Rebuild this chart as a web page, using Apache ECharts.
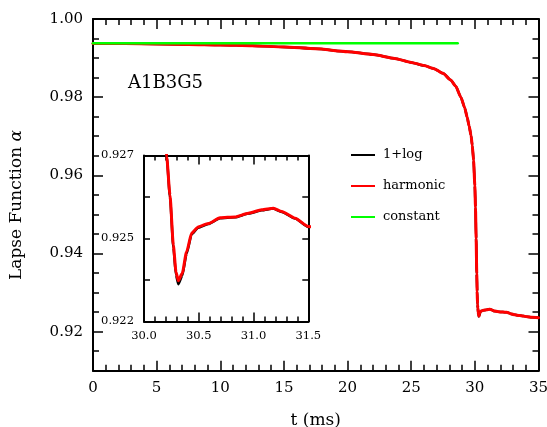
<!DOCTYPE html>
<html>
<head>
<meta charset="utf-8">
<script src="https://cdn.jsdelivr.net/npm/echarts@6/dist/echarts.min.js"></script>
<style>
  html, body { margin: 0; padding: 0; background: #fff; }
  #chart { width: 547px; height: 427px; }
</style>
</head>
<body>
<div id="chart"></div>
<script>
// Time samples (ms)
const tValues = [
  0, 2.5, 5, 7.5, 10, 12.5, 15, 17.5, 20, 22, 23.7, 25, 26, 26.8, 27.5, 28.1,
  28.5, 28.9, 29.2, 29.4, 29.55, 29.7, 29.8, 29.9, 30.0, 30.05, 30.1, 30.15,
  30.18, 30.207, 30.237, 30.268, 30.292, 30.313, 30.349, 30.389, 30.435,
  30.495, 30.587, 30.694, 30.831, 30.953, 31.075, 31.181, 31.258, 31.379,
  31.5, 31.84, 32.2, 32.5, 32.8, 33.15, 33.5, 33.8, 34.1, 34.46, 35
];
// Lapse function, harmonic slicing
const alphaHarmonic = [
  0.99375, 0.9937, 0.99362, 0.9935, 0.99337, 0.99315, 0.99284, 0.9924,
  0.99165, 0.9909, 0.9899, 0.9889, 0.9881, 0.9873, 0.9861, 0.9844,
  0.9828, 0.9800, 0.9773, 0.9748, 0.9726, 0.9702, 0.9676, 0.9638, 0.9573,
  0.9518, 0.9438, 0.9348, 0.9303, 0.92697, 0.92605, 0.92484, 0.9242,
  0.92398, 0.92416, 0.92468, 0.92513, 0.92528, 0.92536, 0.92550, 0.92552,
  0.92561, 0.92569, 0.92573, 0.92565, 0.92549, 0.92529, 0.9251, 0.9250,
  0.92495, 0.9246, 0.9243, 0.9241, 0.9240, 0.9238, 0.92367, 0.92357
];
// Lapse function, 1+log slicing
const alphaLog = [
  0.99375, 0.9937, 0.99362, 0.9935, 0.99337, 0.99315, 0.99284, 0.9924,
  0.99165, 0.9909, 0.9899, 0.9889, 0.9881, 0.9873, 0.9861, 0.9844,
  0.9828, 0.9800, 0.9773, 0.9748, 0.9726, 0.9702, 0.9676, 0.9638, 0.9573,
  0.9518, 0.9438, 0.9348, 0.9303, 0.92697, 0.92600, 0.92478, 0.92412,
  0.92390, 0.92410, 0.92463, 0.92510, 0.92526, 0.92535, 0.92549, 0.92551,
  0.92560, 0.92568, 0.92572, 0.92564, 0.92548, 0.92528, 0.9251, 0.9250,
  0.92495, 0.9246, 0.9243, 0.9241, 0.9240, 0.9238, 0.92367, 0.92357
];
// Lapse function, constant slicing
const tConstant = [0, 28.65];
const alphaConstant = [0.9938, 0.9938];

// Axis ticks and labels
const yMajorTicks = [0.92, 0.94, 0.96, 0.98, 1.00];
const insetYTickValues = [0.923, 0.925, 0.927];
const insetYTickLabels = ['0.922', '0.925', '0.927'];

const FONT = 'DejaVu Serif';
const pairs = (xs, ys) => xs.map((x, i) => [x, ys[i]]);

const chart = echarts.init(document.getElementById('chart'), null, { renderer: 'canvas' });

const axisLine = { show: true, lineStyle: { color: '#000', width: 2 } };
const noSplit = { show: false };

function mainX(position, showLabel) {
  return {
    type: 'value', gridIndex: 0, position: position,
    min: 0, max: 35, interval: 5,
    axisLine: axisLine,
    axisTick: { show: true, inside: true, length: 10, lineStyle: { color: '#000', width: 1.5 } },
    minorTick: { show: true, splitNumber: 5, length: 6, lineStyle: { color: '#000', width: 1.5 } },
    axisLabel: { show: showLabel, margin: 10, color: '#000', fontFamily: FONT, fontSize: 15 },
    splitLine: noSplit
  };
}
function mainY(position, major, showLabel) {
  const ax = {
    type: 'value', gridIndex: 0, position: position,
    min: 0.91, max: 1.00, interval: 0.005,
    axisLine: major ? axisLine : { show: false },
    axisTick: { show: true, inside: true, length: major ? 10 : 6,
      lineStyle: { color: '#000', width: 1.5 } },
    axisLabel: { show: showLabel, margin: 10, color: '#000', fontFamily: FONT, fontSize: 15,
      formatter: v => v.toFixed(2) },
    splitLine: noSplit
  };
  if (major) {
    ax.axisTick.customValues = yMajorTicks;
    ax.axisLabel.customValues = yMajorTicks;
  }
  return ax;
}
function insetX(position, showLabel) {
  return {
    type: 'value', gridIndex: 1, position: position,
    min: 30, max: 31.5, interval: 0.5,
    axisLine: axisLine,
    axisTick: { show: true, inside: true, length: 9, lineStyle: { color: '#000', width: 1.5 } },
    minorTick: { show: true, splitNumber: 5, length: 5, lineStyle: { color: '#000', width: 1.5 } },
    axisLabel: { show: showLabel, margin: 9, color: '#000', fontFamily: FONT, fontSize: 11.5,
      formatter: v => v.toFixed(1) },
    splitLine: noSplit
  };
}
function insetY(position, showLabel) {
  return {
    type: 'value', gridIndex: 1, position: position,
    min: 0.923, max: 0.927, interval: 0.001,
    axisLine: axisLine,
    axisTick: { show: true, inside: true, length: 6, lineStyle: { color: '#000', width: 1.5 } },
    axisLabel: { show: showLabel, margin: 10, color: '#000', fontFamily: FONT, fontSize: 11.5,
      customValues: insetYTickValues,
      formatter: v => {
        const i = insetYTickValues.findIndex(c => Math.abs(c - v) < 1e-7);
        return i >= 0 ? insetYTickLabels[i] : '';
      } },
    splitLine: noSplit
  };
}

function lineSeries(name, xi, yi, data, color, width) {
  return {
    name: name, type: 'line', xAxisIndex: xi, yAxisIndex: yi,
    data: data, showSymbol: false, symbol: 'none', smooth: 0.2, smoothMonotone: 'x',
    color: color, clip: true, animation: false,
    lineStyle: { color: color, width: width, join: 'round', cap: 'round' }
  };
}

const option = {
  backgroundColor: '#fff',
  animation: false,
  textStyle: { fontFamily: FONT },
  grid: [
    { left: 93, top: 19, width: 445.5, height: 351.7, outerBoundsMode: 'none', containLabel: false },
    { left: 144, top: 155.5, width: 164.3, height: 166, outerBoundsMode: 'none', containLabel: false,
      show: true, backgroundColor: '#fff', borderWidth: 0 }
  ],
  xAxis: [
    Object.assign(mainX('bottom', true), {
      name: 't (ms)', nameLocation: 'middle', nameGap: 41,
      nameTextStyle: { color: '#000', fontFamily: FONT, fontSize: 17 }
    }),
    mainX('top', false),
    insetX('bottom', true),
    insetX('top', false)
  ],
  yAxis: [
    mainY('left', true, true),
    mainY('left', false, false),
    mainY('right', true, false),
    mainY('right', false, false),
    insetY('left', true),
    insetY('right', false)
  ],
  legend: {
    data: ['1+log', 'harmonic', 'constant'],
    orient: 'vertical', left: 351, top: 148, padding: 0,
    icon: 'rect', itemWidth: 24, itemHeight: 2, itemGap: 17,
    textStyle: { color: '#000', fontFamily: FONT, fontSize: 13, lineHeight: 14, padding: [0, 0, 0, 3] }
  },
  graphic: [
    {
      type: 'text', x: 128, y: 83,
      style: { text: 'A1B3G5', fill: '#000', font: '18px "DejaVu Serif"',
        textAlign: 'left', textVerticalAlign: 'middle' }
    },
    {
      type: 'text', x: 17, y: 205, rotation: Math.PI / 2,
      style: {
        text: 'Lapse Function {a|α}', fill: '#000', font: '17px "DejaVu Serif"',
        textAlign: 'center', textVerticalAlign: 'middle',
        rich: { a: { fontStyle: 'italic', fontFamily: FONT, fontSize: 17 } }
      }
    }
  ],
  // The constant-slicing line is drawn last so it sits on top of the others
  series: [
    lineSeries('1+log', 0, 0, pairs(tValues, alphaLog), '#000000', 2.5),
    lineSeries('harmonic', 0, 0, pairs(tValues, alphaHarmonic), '#ff0000', 3),
    lineSeries('constant', 0, 0, pairs(tConstant, alphaConstant), '#00ff00', 2.5),
    lineSeries('1+log ', 2, 4, pairs(tValues, alphaLog), '#000000', 2.5),
    lineSeries('harmonic ', 2, 4, pairs(tValues, alphaHarmonic), '#ff0000', 3)
  ]
};

chart.setOption(option);
</script>
</body>
</html>
